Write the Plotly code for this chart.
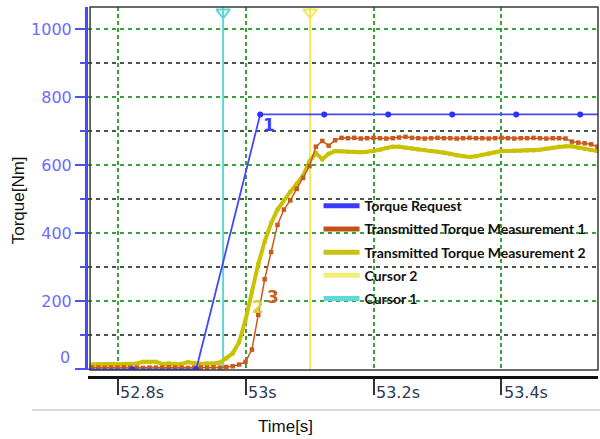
import plotly.graph_objects as go

# ---- data -------------------------------------------------------------
# Torque request: sampled every 100 ms
request_time = [52.723, 52.823, 52.923, 53.023, 53.123, 53.223, 53.323, 53.423, 53.523, 53.623]
request_torque = [0, 0, 0, 750, 750, 750, 750, 750, 750, 750]

# Measurements: sampled every 10 ms starting at 52.76 s
meas_t0 = 52.76
meas_dt = 0.01
meas1_torque = [
    5, 5, 4, 5, 5, 6, 5, 5, 4, 5, 5, 5, 6, 5, 5, 4, 5, 5, 5, 6,
    5, 7, 9, 14, 22,
    58, 160, 265, 345, 425, 470, 497, 531, 563, 598, 655, 672, 658, 674, 681,
    680, 681, 679, 680, 681, 680, 679, 680, 682, 684, 681, 680, 679, 680, 681,
    680, 680, 679, 680, 681, 680, 680, 679, 680, 681, 680, 679, 680, 680, 681,
    680, 679, 680, 680, 679, 670, 667, 665, 662, 655, 652,
]
meas2_torque = [
    14, 15, 15, 16, 15, 15, 15, 17, 22, 21, 22, 16, 17, 15, 16, 21, 18, 16, 17, 17,
    20, 32, 47, 80, 145,
    228, 310, 376, 430, 470, 498, 522, 546, 570,
    612, 636, 618, 634, 642,
    641, 640, 640, 639, 640, 642, 646, 651, 655, 655, 652, 650, 647, 645, 642, 640,
    638, 634, 630, 627, 625, 627, 631, 635, 639, 642, 642, 643, 643, 644, 644, 646,
    649, 652, 655, 656, 656, 652, 649, 645, 642, 640,
]
meas_time = [round(meas_t0 + meas_dt * i, 3) for i in range(len(meas1_torque))]

cursor1_time = 52.965
cursor2_time = 53.101

x_ticks = [52.8, 53.0, 53.2, 53.4]
x_ticktext = ["52.8s", "53s", "53.2s", "53.4s"]
y_ticks = [0, 200, 400, 600, 800, 1000]
y_ticktext = ["", "200", "400", "600", "800", "1000"]
y_minor = [100, 300, 500, 700, 900]

# curve index labels: (text, time, torque, colour)
curve_labels = [
    ("1", 53.036, 718, "#3c3cff"),
    ("2", 53.020, 184, "#d6cf3a"),
    ("3", 53.043, 213, "#c8601e"),
]

X_RANGE = [52.7539, 53.5508]
Y_RANGE = [-2, 1066]

C_REQ = "#4646ff"
C_M1 = "#c85a1e"
C_M2 = "#c8c200"
C_CUR1 = "#5fd6d6"
C_CUR2 = "#eeea55"
GREEN = "#38a238"
DARKGRID = "#405a44"

fig = go.Figure()

# cursors
for t, col in [(cursor1_time, C_CUR1), (cursor2_time, C_CUR2)]:
    fig.add_trace(go.Scatter(x=[t, t], y=[Y_RANGE[0], Y_RANGE[1]], mode="lines",
                             line=dict(color=col, width=2), showlegend=False,
                             hoverinfo="skip"))
    fig.add_trace(go.Scatter(x=[t], y=[1050], mode="markers",
                             marker=dict(symbol="triangle-down-open", size=12,
                                         color=col, line=dict(color=col, width=2)),
                             cliponaxis=False, showlegend=False, hoverinfo="skip"))

# measurement 2 (thick olive)
fig.add_trace(go.Scatter(x=meas_time, y=meas2_torque, mode="lines+markers",
                         line=dict(color=C_M2, width=4),
                         marker=dict(symbol="square", size=4, color=C_M2),
                         showlegend=False))
# measurement 1 (orange)
fig.add_trace(go.Scatter(x=meas_time, y=meas1_torque, mode="lines+markers",
                         line=dict(color=C_M1, width=1.5),
                         marker=dict(symbol="square", size=4.5, color=C_M1),
                         showlegend=False))
# torque request
fig.add_trace(go.Scatter(x=request_time, y=request_torque, mode="lines+markers",
                         line=dict(color=C_REQ, width=1.8),
                         marker=dict(symbol="circle", size=6, color="#2f2fff"),
                         showlegend=False))

# legend entries, each in its own group so the row gap can be set
for i, (name, col) in enumerate([("Torque Request", "#3b3bff"),
                                 ("Transmitted Torque Measurement 1", "#c05414"),
                                 ("Transmitted Torque Measurement 2", "#c8c214"),
                                 ("Cursor 2", "#f0ee74"),
                                 ("Cursor 1", "#5ed8d8")]):
    fig.add_trace(go.Scatter(x=[None], y=[None], mode="lines", name=name,
                             legendgroup=f"g{i}",
                             line=dict(color=col, width=5)))

# carrier for the detached time axis
fig.add_trace(go.Scatter(x=[53.0], y=[None], xaxis="x2", yaxis="y",
                         showlegend=False, hoverinfo="skip"))

for text, t, v, col in curve_labels:
    fig.add_annotation(x=t, y=v, text=f"<b>{text}</b>", showarrow=False,
                       font=dict(family="DejaVu Sans", size=17, color=col))

# zero label sits a little above its tick
fig.add_annotation(xref="paper", yref="y", x=-0.031, y=0, xanchor="right",
                   yanchor="middle", yshift=12, text="0", showarrow=False,
                   font=dict(family="DejaVu Sans", size=16, color="#6b6bff"))

fig.add_annotation(xref="paper", yref="paper", x=-0.137, y=0.478, text="Torque[Nm]",
                   textangle=-90, showarrow=False, xanchor="center", yanchor="middle",
                   font=dict(family="Liberation Sans", size=17, color="#111111"))
fig.add_annotation(xref="paper", yref="paper", x=0.388, y=-0.135, text="Time[s]",
                   showarrow=False, xanchor="center", yanchor="middle",
                   font=dict(family="Liberation Sans", size=17, color="#111111"))

# plot frame and separator line
fig.add_shape(type="rect", xref="paper", yref="paper", x0=0.004, x1=1,
              y0=7 / 370, y1=1, line=dict(color="#3a3a3a", width=1.5), layer="above")
fig.add_shape(type="line", xref="paper", yref="paper", x0=-0.1098, x1=1.004,
              y0=-0.0892, y1=-0.0892, line=dict(color="#b8b8b8", width=1))

fig.update_layout(
    width=600, height=439,
    margin=dict(l=88, r=2, t=7, b=62),
    paper_bgcolor="white", plot_bgcolor="white",
    showlegend=True,
    legend=dict(x=0.452, y=0.505, xanchor="left", yanchor="top",
                bgcolor="rgba(0,0,0,0)", borderwidth=0, tracegroupgap=2,
                traceorder="grouped", itemwidth=36,
                font=dict(family="Lato", size=14, color="#111111", weight="bold")),
    xaxis=dict(range=X_RANGE, tickvals=x_ticks, showticklabels=False, ticks="",
               showline=False, zeroline=False, showgrid=True, gridcolor=GREEN,
               gridwidth=2, griddash="4px,3px"),
    xaxis2=dict(range=X_RANGE, overlaying="x", anchor="free", position=0,
                tickvals=x_ticks, ticktext=x_ticktext, ticks="outside", ticklen=16,
                tickwidth=2, tickcolor="#333333", showline=True, linecolor="#111111",
                linewidth=3, showgrid=False, zeroline=False,
                ticklabelposition="outside right",
                tickfont=dict(family="DejaVu Sans", size=16, color="#2b3a58")),
    yaxis=dict(range=Y_RANGE, domain=[7 / 370, 1], tickvals=y_ticks, ticktext=y_ticktext,
               ticks="outside", ticklen=10, tickwidth=2, tickcolor="#5050ff",
               showline=True, linecolor="#4848ff", linewidth=3, zeroline=False,
               showgrid=True, gridcolor=GREEN, gridwidth=2, griddash="4px,4px",
               tickfont=dict(family="DejaVu Sans", size=16, color="#6b6bff"),
               minor=dict(tickvals=y_minor, ticks="outside", ticklen=5, tickwidth=2,
                          tickcolor="#5050ff", showgrid=True, gridcolor=DARKGRID,
                          gridwidth=2, griddash="4px,4px")),
)

fig.write_html("out.html")
